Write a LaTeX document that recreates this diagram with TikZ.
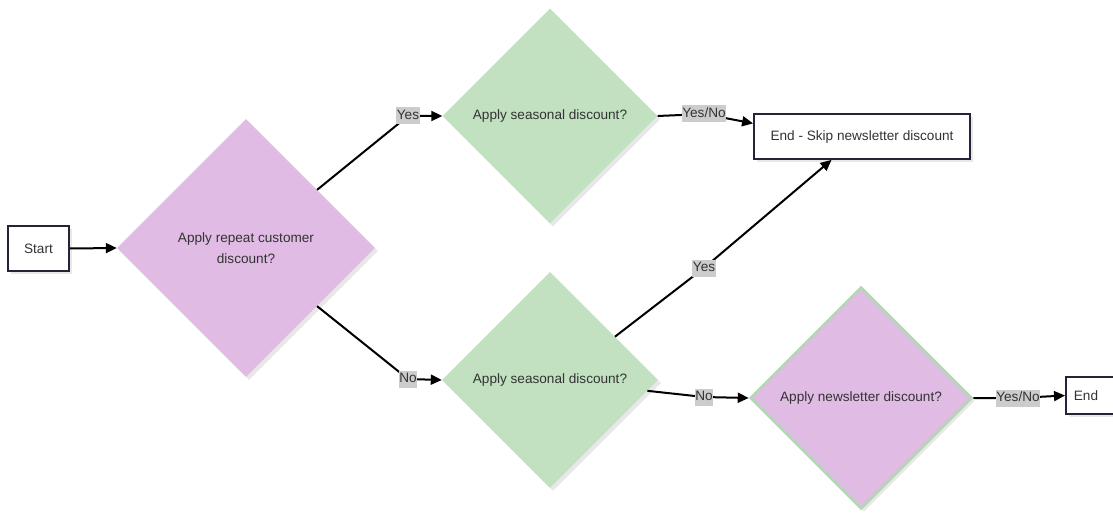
\documentclass[tikz,border=0pt]{standalone}
\usepackage{fontspec}
\setmainfont{Liberation Sans}
\usetikzlibrary{shapes.geometric,arrows.meta,shadows,calc}
\definecolor{purp}{RGB}{224,187,228}
\definecolor{grn}{RGB}{193,225,193}
\definecolor{grnb}{RGB}{178,216,178}
\definecolor{lblbg}{RGB}{204,204,204}
\definecolor{txt}{RGB}{51,51,51}
\definecolor{boxb}{RGB}{36,36,56}
\definecolor{shade}{RGB}{232,232,232}
\begin{document}
\begin{tikzpicture}[x=1pt,y=-1pt,
  font=\fontsize{13.6}{20.5}\selectfont,
  every node/.style={text=txt},
  shad/.style={drop shadow={shadow xshift=3pt,shadow yshift=-3pt,fill=shade,opacity=1}},
  dia/.style={diamond, aspect=1, inner sep=0pt, align=center, shad},
  flowbox/.style={rectangle, draw=boxb, line width=1.8pt, fill=white, minimum height=45pt, inner xsep=15pt, shad},
  lbl/.style={fill=lblbg, inner xsep=0.5pt, inner ysep=2pt, text height=10pt, text depth=3pt},
  arr/.style={draw=black, line width=2pt, -{Triangle[length=11pt,width=10pt]}}
]
\useasboundingbox (0,0) rectangle (1113,513);

% nodes
\node[flowbox, minimum width=61pt] (start) at (38.5,248.5) {Start};
\node[dia, fill=purp, minimum width=258pt, minimum height=258pt] (d1) at (246,248) {Apply repeat customer\\discount?};
\node[dia, fill=grn, minimum width=215pt, minimum height=215pt] (d2) at (550,116) {Apply seasonal discount?};
\node[dia, fill=grn, minimum width=216pt, minimum height=216pt] (d3) at (550,380) {Apply seasonal discount?};
\node[dia, fill=purp, draw=grnb, line width=2.5pt, minimum width=222pt, minimum height=222pt] (d4) at (861,398) {Apply newsletter discount?};
\node[flowbox, minimum width=216pt] (skip) at (862,136.5) {End - Skip newsletter discount};
\node[flowbox, anchor=west, minimum height=37pt, text width=44pt, align=left, inner xsep=8pt] (end) at (1065,395.5) {End};

% bend points for labels
\coordinate (b1) at (408,116);
\coordinate (b2) at (408,379);
\coordinate (b3) at (704,114);
\coordinate (b4) at (704,268);
\coordinate (b5) at (704,397);
\coordinate (b6) at (1018,398);

% connectors
\draw[arr] (start.east) -- (d1.west);
\draw[arr] ($(d1.north)!0.55!(d1.east)$) -- (b1) node[lbl] {Yes} -- (d2.west);
\draw[arr] ($(d1.east)!0.45!(d1.south)$) -- (b2) node[lbl] {No} -- (d3.west);
\draw[arr] (d2.east) -- (b3) node[lbl] {Yes/No} -- ($(skip.north west)!0.22!(skip.south west)$);
\draw[arr] ($(d3.north)!0.6!(d3.east)$) -- (b4) node[lbl] {Yes} -- ($(skip.south west)!0.36!(skip.south east)$);
\draw[arr] ($(d3.east)!0.1!(d3.south)$) -- (b5) node[lbl] {No} -- (d4.west);
\draw[arr] (d4.east) -- (b6) node[lbl] {Yes/No} -- (end.west);
\end{tikzpicture}
\end{document}
